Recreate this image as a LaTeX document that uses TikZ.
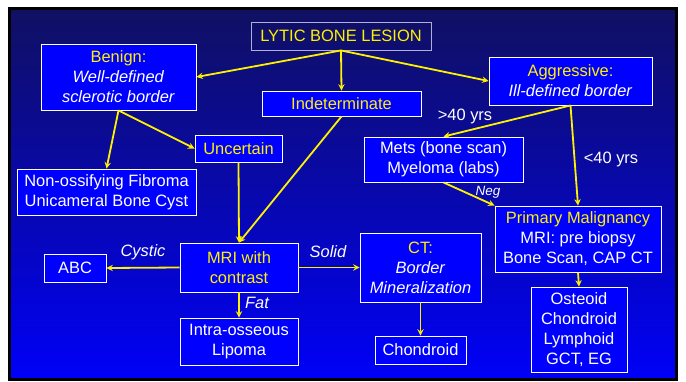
\documentclass[tikz,border=0pt]{standalone}
\usepackage{fontspec}
\setmainfont{Liberation Sans}
\definecolor{bgtop}{RGB}{16,16,98}
\definecolor{bgbot}{RGB}{0,0,248}
\definecolor{frame}{RGB}{175,175,215}
\begin{document}
\begin{tikzpicture}[x=1bp, y=-1bp, >=stealth,
    font=\fontsize{16.5}{20}\selectfont,
    box/.style={draw=white, fill=blue, text=white, align=center, inner sep=0pt, line width=0.9bp},
    go/.style={->, yellow, line width=1.8bp},
    tag/.style={text=white, font=\fontsize{16.5}{20}\selectfont\itshape}]
    % tlo slajdu
    \useasboundingbox (0,0) rectangle (686,381);
    \fill[white] (0,0) rectangle (686,381);
    \shade[top color=bgtop, bottom color=bgbot, draw=black, line width=3bp] (9.5,8.5) rectangle (676,379.5);
    % gorny poziom
    \node[box, fill=none, draw=frame, text=yellow, minimum width=180bp, minimum height=28bp] (lesion) at (341,36) {LYTIC BONE LESION};
    \node[box, minimum width=155bp, minimum height=66bp] (benign) at (118.5,77)
        {\textcolor{yellow}{Benign:}\\\textit{Well-defined}\\\textit{sclerotic border}};
    \node[box, text=yellow, minimum width=159bp, minimum height=25bp] (indet) at (341.5,103.5) {Indeterminate};
    \node[box, minimum width=163bp, minimum height=48bp] (aggr) at (570.5,81)
        {\textcolor{yellow}{Aggressive:}\\\textit{Ill-defined border}};
    % drugi poziom
    \node[box, text=yellow, minimum width=87bp, minimum height=27bp] (uncert) at (238.5,148.5) {Uncertain};
    \node[box, minimum width=179bp, minimum height=46bp] (nof) at (106.5,192) {Non-ossifying Fibroma\\Unicameral Bone Cyst};
    \node[box, minimum width=159bp, minimum height=45bp] (mets) at (443.5,159.5) {Mets (bone scan)\\Myeloma (labs)};
    \node[box, minimum width=166bp, minimum height=66bp] (prim) at (578,239)
        {\textcolor{yellow}{Primary Malignancy}\\MRI: pre biopsy\\Bone Scan, CAP CT};
    % MRI i dalej
    \node[box, text=yellow, minimum width=118bp, minimum height=49bp] (mri) at (239,267.5) {MRI with\\contrast};
    \node[box, minimum width=62bp, minimum height=28bp] (abc) at (75,268) {ABC};
    \node[box, minimum width=121bp, minimum height=69bp] (ct) at (420.5,267.5)
        {\textcolor{yellow}{CT:}\\\textit{Border}\\\textit{Mineralization}};
    \node[box, minimum width=118bp, minimum height=47bp] (lipoma) at (239,341.5) {Intra-osseous\\Lipoma};
    \node[box, minimum width=91bp, minimum height=28bp] (chond) at (420.5,350) {Chondroid};
    \node[box, minimum width=96bp, minimum height=85bp] (ost) at (579,329.5) {Osteoid\\Chondroid\\Lymphoid\\GCT, EG};
    % strzalki
    \draw[go] (lesion.south) -- (benign.east);
    \draw[go] (lesion.south) -- (indet.north);
    \draw[go] (lesion.south) -- (aggr.west);
    \draw[go] (benign.south) -- (nof.north);
    \draw[go] (benign.south) -- (uncert.west);
    \draw[go] (uncert.south) -- (mri.north);
    \draw[go] (indet.south) -- (mri.north);
    \draw[go] (aggr.south) -- (mets.north);
    \draw[go] (aggr.south) -- (prim.north);
    \draw[go] (mets.south) -- (prim.north west);
    \draw[go] (prim.south) -- (ost.north);
    \draw[go] (mri.west) -- (abc.east);
    \draw[go] (mri.east) -- (ct.west);
    \draw[go] (mri.south) -- (lipoma.north);
    \draw[go] (ct.south) -- (chond.north);
    % opisy strzalek
    \node[text=white] (gt40) at (465,116) {>40 yrs};
    \node[text=white] (lt40) at (611,159) {<40 yrs};
    \node[tag, font=\fontsize{13.5}{16}\selectfont\itshape] (neg) at (488,192) {Neg};
    \node[tag] (cystic) at (143,252) {Cystic};
    \node[tag] (solid) at (328,252) {Solid};
    \node[tag] (fat) at (257,303) {Fat};
\end{tikzpicture}
\end{document}
